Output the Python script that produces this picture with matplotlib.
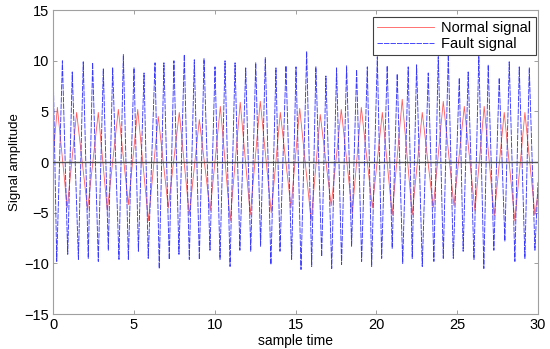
import matplotlib
matplotlib.use("Agg")
import matplotlib.pyplot as plt

plt.rcParams['font.family'] = ['Liberation Sans', 'DejaVu Sans']

# Normal signal: turning points (time, amplitude)
normal_t = [0.0, 0.27, 0.88, 1.46, 2.14, 2.80, 3.36, 4.04, 4.66, 5.24, 5.90,
            6.51, 7.13, 7.81, 8.43, 9.05, 9.72, 10.35, 10.96, 11.58, 12.20,
            12.82, 13.50, 14.06, 14.72, 15.26, 15.97, 16.53, 17.21, 17.83,
            18.51, 19.07, 19.75, 20.37, 20.98, 21.60, 22.22, 22.84, 23.52,
            24.14, 24.80, 25.44, 26.10, 26.67, 27.29, 27.91, 28.57, 29.19,
            29.81, 30.0]
normal_v = [0.5, 5.4, -4.5, 4.9, -4.7, 4.9, -4.8, 5.2, -4.2, 5.2, -5.8,
            4.5, -4.5, 4.9, -5.2, 4.2, -4.8, 5.5, -5.8, 5.9, -5.2,
            6.0, -5.0, 4.9, -4.5, 5.3, -5.8, 4.7, -4.3, 5.2,
            -5.0, 5.4, -4.5, 4.9, -5.2, 6.2, -5.2, 4.9, -4.5,
            6.0, -4.3, 5.5, -4.8, 5.5, -5.3, 4.9, -5.8, 4.9,
            -5.2, -3.0]

# Fault signal: turning points (time, amplitude)
fault_t = [0.0, 0.23, 0.58, 0.91, 1.19, 1.57, 1.87, 2.18, 2.45, 2.80, 3.11,
           3.42, 3.69, 4.08, 4.35, 4.66, 5.01, 5.28, 5.63, 5.89, 6.31, 6.57,
           6.86, 7.19, 7.48, 7.79, 8.12, 8.43, 8.74, 9.05, 9.34, 9.71, 10.02,
           10.33, 10.64, 10.95, 11.26, 11.56, 11.92, 12.23, 12.54, 12.84,
           13.13, 13.48, 13.79, 14.04, 14.41, 14.76, 15.03, 15.34, 15.69,
           16.00, 16.26, 16.62, 16.88, 17.24, 17.54, 17.85, 18.16, 18.47,
           18.78, 19.09, 19.44, 19.71, 20.06, 20.33, 20.67, 20.98, 21.29,
           21.63, 21.97, 22.22, 22.49, 22.84, 23.21, 23.56, 23.83, 24.14,
           24.45, 24.76, 25.13, 25.37, 25.68, 26.04, 26.34, 26.65, 26.92,
           27.27, 27.60, 27.95, 28.22, 28.57, 28.84, 29.19, 29.46, 29.81, 30.0]
fault_v = [9.8, -9.8, 10.0, -9.1, 8.9, -9.6, 9.9, -9.5, 9.8, -9.8, 9.2,
           -8.7, 9.3, -9.6, 10.6, -9.6, 9.3, -8.8, 8.8, -9.5, 9.8, -10.5,
           9.8, -9.6, 10.0, -9.1, 10.6, -9.6, 10.1, -9.6, 10.2, -8.7, 9.4,
           -9.6, 10.0, -10.3, 9.8, -8.7, 9.3, -8.8, 9.8, -8.3,
           10.3, -10.1, 9.3, -8.8, 9.5, -9.6, 9.4, -10.6, 10.9,
           -10.3, 9.4, -9.3, 8.5, -10.5, 9.3, -10.1, 9.5, -8.3,
           9.1, -9.8, 9.4, -10.3, 10.4, -9.5, 9.5, -8.5, 8.7,
           -10.0, 9.4, -9.5, 9.6, -10.3, 8.8, -9.8, 10.6, -9.5,
           10.6, -9.5, 8.3, -8.8, 8.9, -9.6, 10.6, -10.5, 9.6,
           -8.7, 8.3, -7.8, 9.9, -9.8, 9.4, -9.5, 9.3, -8.7, -2.0]

fig = plt.figure(figsize=(5.5, 3.49), dpi=100)
ax = fig.add_axes([0.0964, 0.100, 0.8818, 0.871])

ax.plot(normal_t, normal_v, color='#ff5a5a', linestyle='-', linewidth=0.6,
        label='Normal signal')
ax.plot(fault_t, fault_v, color='#3a3aff', linestyle=(0, (6, 1.2)),
        linewidth=0.65, label='Fault signal')
ax.axhline(0, color='#505050', linewidth=1.0, zorder=5)

ax.set_xlim(0, 30)
ax.set_ylim(-15, 15)
ax.set_xticks(range(0, 31, 5))
ax.set_yticks(range(-15, 16, 5))
ax.tick_params(direction='in', length=3, width=0.6, color='#909090',
               top=True, right=True, labelsize=10.5, pad=3)
for s in ax.spines.values():
    s.set_color('#a0a0a0')
    s.set_linewidth(0.8)

ax.set_xlabel('sample time', fontsize=10, labelpad=1)
ax.set_ylabel('Signal amplitude', fontsize=9.5, labelpad=2)

leg = ax.legend(loc='upper right', bbox_to_anchor=(1.0, 0.985), fontsize=10.5,
                fancybox=False, framealpha=1, edgecolor='#404040',
                handlelength=3.9, handletextpad=0.5, borderpad=0.3,
                labelspacing=0.1, borderaxespad=0.15)
leg.get_frame().set_linewidth(0.8)

fig.savefig('out.png', dpi=100)
